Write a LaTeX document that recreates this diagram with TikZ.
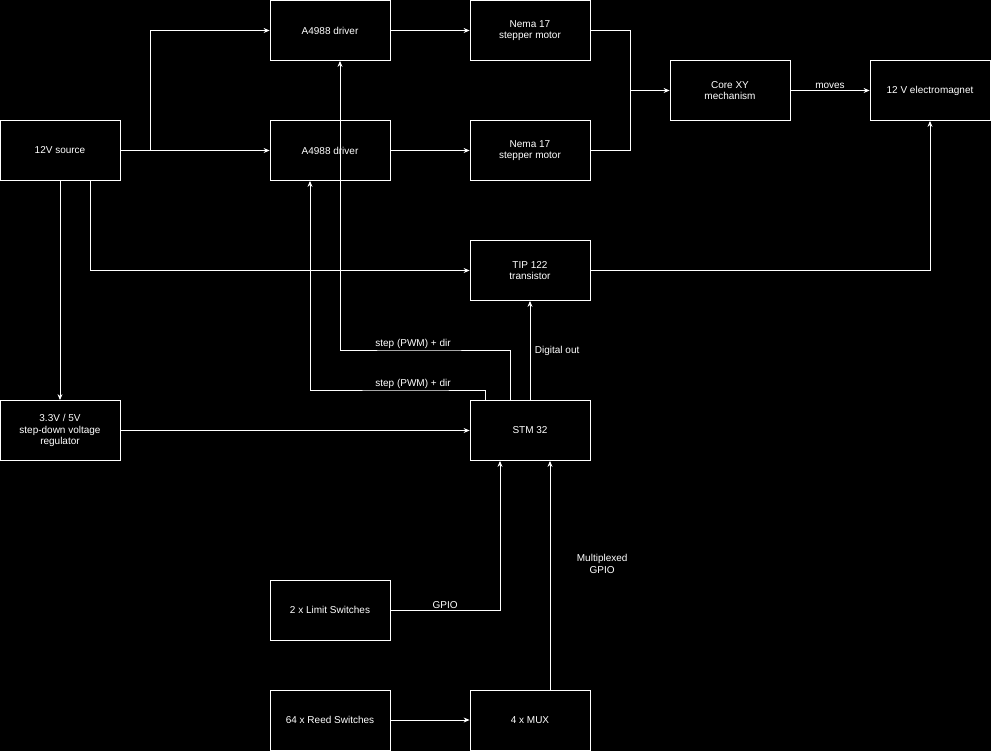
\documentclass[tikz,border=0pt]{standalone}
\usepackage{fontspec}
\setmainfont{Liberation Sans}
\usetikzlibrary{arrows.meta}
\begin{document}
\begin{tikzpicture}[x=1pt,y=-1pt,
  box/.style={draw=white,fill=black,text=white,minimum width=120pt,minimum height=60pt,inner sep=0pt,align=center,font=\fontsize{10}{11.5}\selectfont,line width=0.8pt},
  conn/.style={draw=white,line width=0.8pt,-{Stealth[length=6pt,width=5pt]}},
  lab/.style={text=white,font=\fontsize{10}{11.5}\selectfont,align=center,inner sep=1.5pt}]
\fill[black] (0,0) rectangle (991,751);
\useasboundingbox (0,0) rectangle (991,751);
\node[box] (src) at (60,150.5) {12V source};
\node[box] (drvA) at (330,30.5) {A4988 driver};
\node[box] (drvB) at (330,150.5) {A4988 driver};
\node[box] (motA) at (530,30.5) {Nema 17\\stepper motor};
\node[box] (motB) at (530,150.5) {Nema 17\\stepper motor};
\node[box] (core) at (730,90.5) {Core XY\\mechanism};
\node[box] (mag) at (930,90.5) {12 V electromagnet};
\node[box] (tip) at (530,270.5) {TIP 122\\transistor};
\node[box] (reg) at (60,430.5) {3.3V / 5V\\step-down voltage\\regulator};
\node[box] (stm) at (530,430.5) {STM 32};
\node[box] (lim) at (330,610) {2 x Limit Switches};
\node[box] (reed) at (330,720) {64 x Reed Switches};
\node[box] (mux) at (530,720) {4 x MUX};
\coordinate (j1) at (150,150.5);
\draw[conn] (src.east) -- (drvB.west);
\draw[conn] (j1) |- (drvA.west);
\draw[conn] (drvA) -- (motA);
\draw[conn] (drvB) -- (motB);
\coordinate (j2) at (630,90.5);
\draw[conn] (motA.east) -| (j2) -- (core.west);
\draw[draw=white,line width=0.8pt] (motB.east) -| (j2);
\draw[conn] (core) -- node[lab,above]{moves} (mag);
\draw[conn] (src.south) -- (reg.north);
\draw[conn] ([xshift=30pt]src.south) |- (tip.west);
\draw[conn] (tip.east) -| (mag.south);
\draw[conn] (reg) -- (stm);
\draw[conn] ([xshift=-20pt]stm.north) |- (413,350) node[lab,above]{step (PWM) + dir} -| ([xshift=10pt]drvA.south);
\draw[conn] ([xshift=-45pt]stm.north) |- (413,390) node[lab,above]{step (PWM) + dir} -| ([xshift=-20pt]drvB.south);
\draw[conn] ([xshift=0pt]stm.north) -- node[lab,right,xshift=3pt]{Digital out} (tip.south);
\draw[conn] (lim.east) -| node[lab,above,pos=0.25]{GPIO} ([xshift=-30pt]stm.south);
\draw[conn] ([xshift=20pt]mux.north) -- node[lab,right,xshift=25pt,pos=0.55]{Multiplexed\\GPIO} ([xshift=20pt]stm.south);
\draw[conn] (reed) -- (mux);
\end{tikzpicture}
\end{document}
